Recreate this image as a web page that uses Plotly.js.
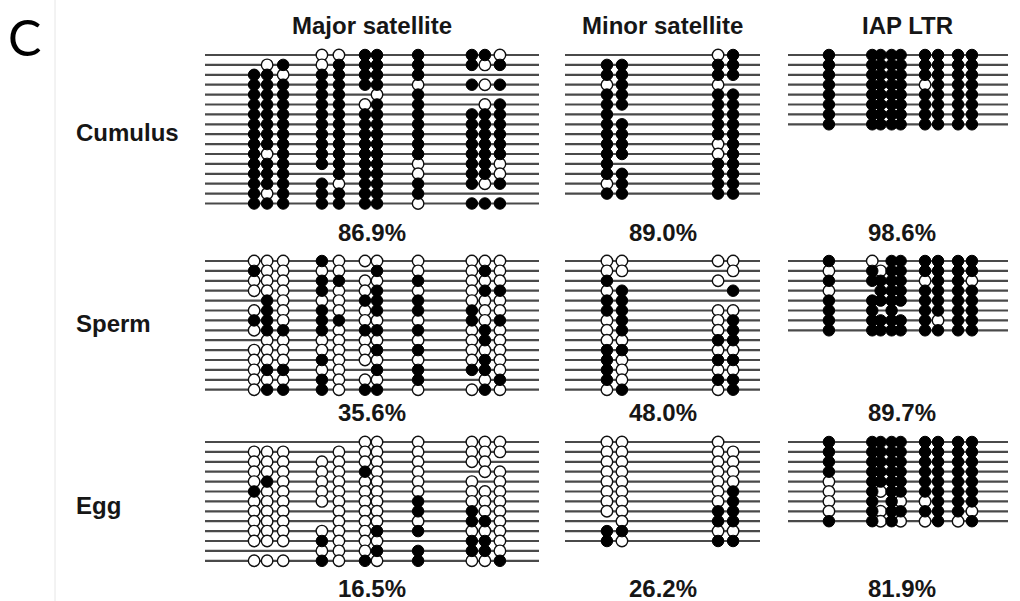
<!DOCTYPE html>
<html>
<head>
<meta charset="utf-8">
<script src="https://cdn.plot.ly/plotly-3.0.1.min.js"></script>
<style>
  html, body { margin: 0; padding: 0; background: #fff; }
  #chart { width: 1020px; height: 601px; }
</style>
</head>
<body>
<div id="chart"></div>
<script>
// Bisulfite sequencing of repeat elements.
// Each string is one sequenced clone, one character per CpG site:
// '1' = methylated, '0' = unmethylated, '-' = not determined.
const regions = ['Major satellite', 'Minor satellite', 'IAP LTR'];
const cellTypes = ['Cumulus', 'Sperm', 'Egg'];

// CpG positions along each amplicon (% of amplicon length)
const majorCpG = [14.7, 18.6, 23.4, 35.0, 40.1, 47.9, 51.5, 63.8, 79.9, 83.8, 88.3];
const minorCpG = [21.5, 29.2, 78.5, 86.2];
const iapCpG = [18.6, 38.3, 42.1, 47.1, 51.2, 62.3, 68.2, 77.3, 83.6];

const cumulusMajor = [
  '---00111110', '-0101111101', '11011111---', '11111110101',
  '11111-01---', '11111011-01', '11111111111', '11111111111',
  '11111111111', '11111111111', '10111111111', '11111110110',
  '111-1110110', '11110111101', '10111111---', '11111110111'
];
const cumulusMinor = [
  '--01', '1111', '1111', '010-', '1111', '1111', '1-11', '1111',
  '1111', '1101', '1101', '1-11', '1111', '0111', '1111'
];
const cumulusIAP = [
  '111111111', '111111111', '111111111', '111110111',
  '111111111', '111111111', '111111111', '111111111'
];

const spermMajor = [
  '00010000000', '10000-10010', '00011001000', '00010010011',
  '-1000111000', '01010011100', '11011000101', '01110111010',
  '-0000000010', '00000011000', '00010000010', '01100-11110',
  '00010001-01', '01110110010'
];
const spermMinor = [
  '0000', '00-0', '1-0-', '01-1', '11--', '1100', '0101',
  '0101', '0011', '1100', '1011', '1000', '1011', '0101'
];
const spermIAP = [
  '10-111111', '010111111', '111110110', '0-1111111',
  '111111111', '11-1-1111', '111111011', '111111111'
];

const eggMajor = [
  '-----000000', '000-0000000', '0000000000-', '00000100-00',
  '010000000-0', '10000000000', '00000001000', '000-0001100',
  '000-0000110', '00000011000', '0001000-110', '---00011110',
  '00010101001'
];
const eggMinor = [
  '000-', '0000', '0000', '0000', '0000', '0001', '0001',
  '0011', '-011', '1100', '1011'
];
const eggIAP = [
  '111111111', '111111111', '111111111', '111111111',
  '011111111', '010111111', '01-100111', '010111110',
  '110100101'
];

// Methylation level reported for each panel
const pctCumulus = ['86.9%', '89.0%', '98.6%'];
const pctSperm = ['35.6%', '48.0%', '89.7%'];
const pctEgg = ['16.5%', '26.2%', '81.9%'];

// ---------------------------------------------------------------------------
const sites = [majorCpG, minorCpG, iapCpG];
const clones = [
  [cumulusMajor, cumulusMinor, cumulusIAP],
  [spermMajor, spermMinor, spermIAP],
  [eggMajor, eggMinor, eggIAP]
];
const pcts = [pctCumulus, pctSperm, pctEgg];

// Page geometry (pixels)
const W = 1020, H = 601;
const colSpan = [[205, 539], [565, 760], [788, 1008]];
const rowTop = [55, 261, 442];
const step = 9.9;
const yMax = 16;              // clone slots per panel axis
const pctY = [232, 413, 588];
const titleY = 26;
const labelY = [132, 323, 505];
const labelX = 74;

const LINE_COLOR = '#4a4a4a';
const TEXT_COLOR = '#161616';
const FONT = 'Liberation Sans, Arial, Helvetica, sans-serif';

const traces = [];
const markerTraces = [];

clones.forEach((row, r) => {
  row.forEach((panel, c) => {
    const xa = c === 0 ? 'x' : 'x' + (c + 1);
    const ya = r === 0 ? 'y' : 'y' + (r + 1);
    // one horizontal line per clone
    const lx = [], ly = [];
    panel.forEach((s, i) => { lx.push(0, 100, null); ly.push(i, i, null); });
    traces.push({
      type: 'scatter', mode: 'lines', x: lx, y: ly, xaxis: xa, yaxis: ya,
      line: { color: LINE_COLOR, width: 2.2 }, hoverinfo: 'skip', showlegend: false
    });
    const mx = [], my = [], ux = [], uy = [];
    panel.forEach((s, i) => {
      s.split('').forEach((ch, k) => {
        if (ch === '1') { mx.push(sites[c][k]); my.push(i); }
        else if (ch === '0') { ux.push(sites[c][k]); uy.push(i); }
      });
    });
    markerTraces.push({
      type: 'scatter', mode: 'markers', x: ux, y: uy, xaxis: xa, yaxis: ya,
      marker: { symbol: 'circle', size: 11.5, color: '#ffffff', line: { color: '#111', width: 1.4 } },
      hoverinfo: 'skip', showlegend: false
    });
    markerTraces.push({
      type: 'scatter', mode: 'markers', x: mx, y: my, xaxis: xa, yaxis: ya,
      marker: { symbol: 'circle', size: 11.5, color: '#000000', line: { color: '#000', width: 1 } },
      hoverinfo: 'skip', showlegend: false
    });
  });
});

const hidden = { visible: false, showgrid: false, zeroline: false, fixedrange: true };
const layout = {
  width: W, height: H,
  margin: { l: 0, r: 0, t: 0, b: 0 },
  paper_bgcolor: '#ffffff', plot_bgcolor: 'rgba(0,0,0,0)',
  showlegend: false,
  annotations: [],
  shapes: [{
    type: 'line', xref: 'paper', yref: 'paper',
    x0: 55 / W, x1: 55 / W, y0: 0, y1: 1,
    line: { color: '#e6e6e6', width: 1 }
  }]
};

colSpan.forEach((span, c) => {
  const key = c === 0 ? 'xaxis' : 'xaxis' + (c + 1);
  layout[key] = Object.assign({}, hidden, {
    range: [0, 100], domain: [span[0] / W, span[1] / W], anchor: 'free', position: 0
  });
});
rowTop.forEach((top, r) => {
  const key = r === 0 ? 'yaxis' : 'yaxis' + (r + 1);
  const topPx = top - step;
  const botPx = top + yMax * step;
  layout[key] = Object.assign({}, hidden, {
    range: [yMax, -1],
    domain: [Math.max(0, 1 - botPx / H), 1 - topPx / H], anchor: 'free', position: 0
  });
});

const boldFont = (size) => ({ family: FONT, size: size, color: TEXT_COLOR, weight: 'bold' });

// panel letter
layout.annotations.push({
  text: 'C', xref: 'paper', yref: 'paper', x: 6 / W, y: 1 - 37 / H,
  xanchor: 'left', yanchor: 'middle', showarrow: false,
  font: { family: 'Lato, Carlito, Calibri, sans-serif', size: 50, color: '#000' }
});
// region titles
regions.forEach((name, c) => {
  const xref = c === 0 ? 'x domain' : 'x' + (c + 1) + ' domain';
  layout.annotations.push({
    text: name, xref: xref, yref: 'paper', x: 0.5, y: 1 - titleY / H,
    xanchor: 'center', yanchor: 'middle', showarrow: false, font: boldFont(24),
    xshift: c === 2 ? 9 : 0
  });
});
// cell type labels
cellTypes.forEach((name, r) => {
  layout.annotations.push({
    text: name, xref: 'paper', yref: 'paper', x: labelX / W, y: 1 - labelY[r] / H,
    xanchor: 'left', yanchor: 'middle', showarrow: false, font: boldFont(24)
  });
});
// methylation percentages
pcts.forEach((row, r) => {
  row.forEach((txt, c) => {
    const xref = c === 0 ? 'x domain' : 'x' + (c + 1) + ' domain';
    layout.annotations.push({
      text: txt, xref: xref, yref: 'paper', x: 0.5, y: 1 - pctY[r] / H,
      xanchor: 'center', yanchor: 'middle', showarrow: false, font: boldFont(24),
      xshift: c === 2 ? 4 : 0
    });
  });
});

Plotly.newPlot('chart', traces.concat(markerTraces), layout, { staticPlot: true, displayModeBar: false });
</script>
</body>
</html>
